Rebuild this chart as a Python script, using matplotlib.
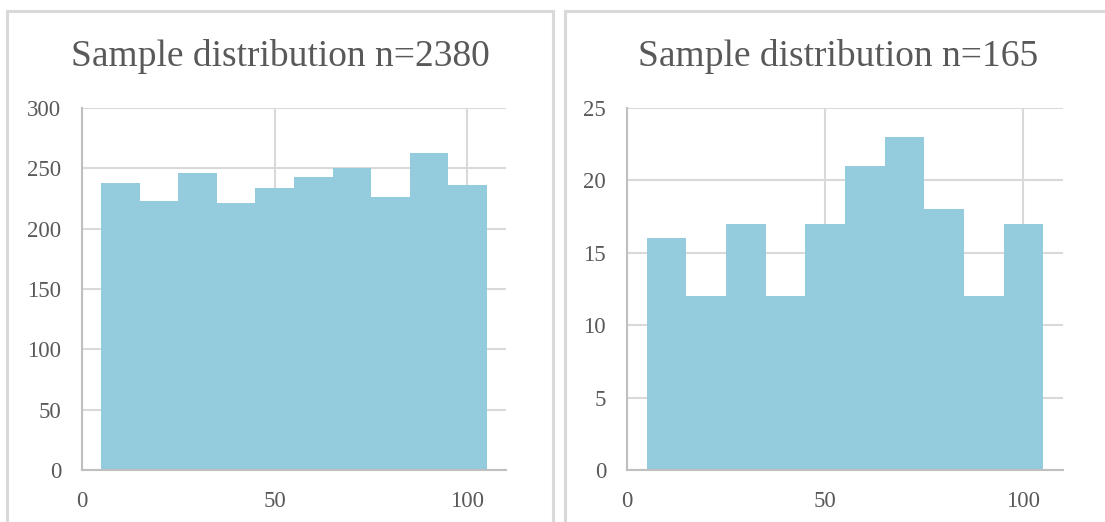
import matplotlib.pyplot as plt
from matplotlib.patches import Rectangle

# Histogram data (bins of width 10 centred on 10..100)
bin_edges = [5, 15, 25, 35, 45, 55, 65, 75, 85, 95, 105]
counts_big = [238, 223, 246, 221, 234, 243, 250, 226, 263, 236]
counts_small = [16, 12, 17, 12, 17, 21, 23, 18, 12, 17]
titles = ['Sample distribution n=2380', 'Sample distribution n=165']
y_ticks_big = [0, 50, 100, 150, 200, 250, 300]
y_ticks_small = [0, 5, 10, 15, 20, 25]
x_ticks = [0, 50, 100]

bar_color = '#94CBDD'
text_color = '#595959'
grid_color = '#D9D9D9'
axis_color = '#BFBFBF'

plt.rcParams['font.family'] = ['Liberation Serif', 'DejaVu Serif']

fig = plt.figure(figsize=(11.05, 5.22), dpi=100)
W, H = 1105, 522

# chart frames (they run off the bottom / right edge of the picture)
fig.patches.append(Rectangle((7 / W, -0.05), (553 - 7) / W, 1.05 - 11 / H,
                             transform=fig.transFigure, fill=False,
                             edgecolor=grid_color, linewidth=2.2))
fig.patches.append(Rectangle((565 / W, -0.05), (1115 - 565) / W, 1.05 - 11 / H,
                             transform=fig.transFigure, fill=False,
                             edgecolor=grid_color, linewidth=2.2))

ax1 = fig.add_axes([82 / W, 1 - 470 / H, (506 - 82) / W, (470 - 108) / H])
ax2 = fig.add_axes([627 / W, 1 - 470 / H, (1063 - 627) / W, (470 - 108) / H])

panels = [(ax1, counts_big, y_ticks_big, titles[0], 280),
          (ax2, counts_small, y_ticks_small, titles[1], 838)]

for ax, counts, yt, title, cx in panels:
    widths = [bin_edges[i + 1] - bin_edges[i] for i in range(len(counts))]
    ax.bar(bin_edges[:-1], counts, width=widths, align='edge',
           color=bar_color, linewidth=0, zorder=2)
    ax.set_xlim(0, 110)
    ax.set_ylim(yt[0], yt[-1])
    ax.set_xticks(x_ticks)
    ax.set_yticks(yt)
    ax.grid(True, color=grid_color, linewidth=1.5, zorder=0)
    ax.set_axisbelow(True)
    for s in ['top', 'right']:
        ax.spines[s].set_visible(False)
    for s in ['left', 'bottom']:
        ax.spines[s].set_color(axis_color)
        ax.spines[s].set_linewidth(1.5)
        ax.spines[s].set_zorder(3)
    ax.tick_params(length=0, labelsize=16.5, labelcolor=text_color)
    ax.tick_params(axis='x', pad=15)
    ax.tick_params(axis='y', pad=15)
    fig.text(cx / W, 1 - 56 / H, title, ha='center', va='center',
             fontsize=27, color=text_color)

fig.savefig('out.png', dpi=100)
